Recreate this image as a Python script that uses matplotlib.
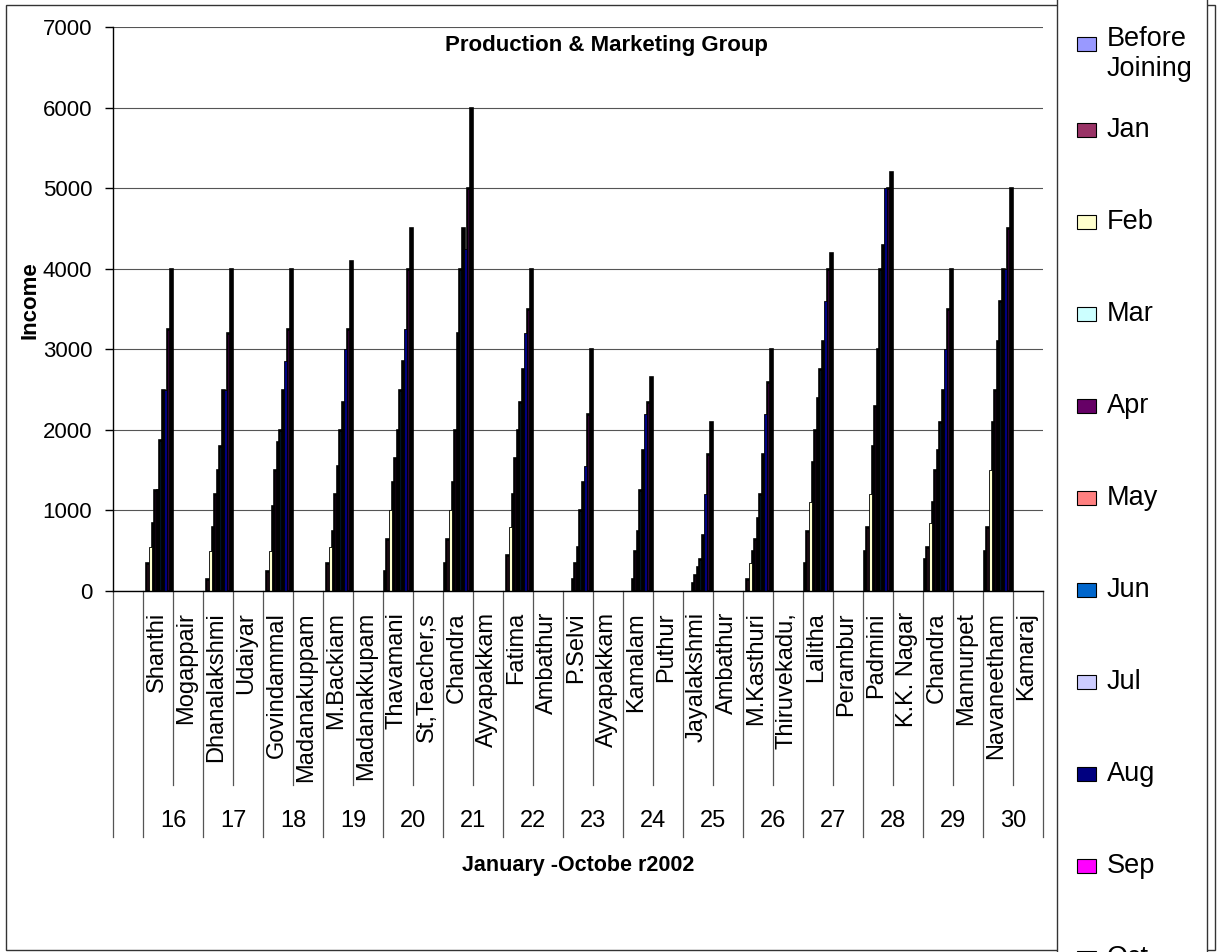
import numpy as np
import matplotlib
matplotlib.use("Agg")
import matplotlib.pyplot as plt
from matplotlib.patches import Rectangle
from matplotlib.transforms import blended_transform_factory

# Member groups 16-30: member name and village on the category axis
group_ids = [16, 17, 18, 19, 20, 21, 22, 23, 24, 25, 26, 27, 28, 29, 30]
members = ["Shanthi", "Dhanalakshmi", "Govindammal", "M.Backiam", "Thavamani",
           "Chandra", "Fatima", "P.Selvi", "Kamalam", "Jayalakshmi",
           "M.Kasthuri", "Lalitha", "Padmini", "Chandra", "Navaneetham"]
places = ["Mogappair", "Udaiyar", "Madanakuppam", "Madanakkupam", "St,Teacher,s",
          "Ayyapakkam", "Ambathur", "Ayyapakkam", "Puthur", "Ambathur",
          "Thiruvekadu,", "Perambur", "K.K. Nagar", "Mannurpet", "Kamaraj"]

# Monthly income of each member (one list per series)
before_joining = [0, 0, 0, 0, 250, 350, 0, 0, 0, 0, 0, 350, 500, 400, 500]
jan = [350, 150, 250, 350, 650, 650, 450, 0, 0, 0, 150, 750, 800, 550, 800]
feb = [550, 500, 500, 550, 1000, 1000, 800, 0, 0, 0, 350, 1100, 1200, 850, 1500]
mar = [850, 800, 1050, 750, 1350, 1350, 1200, 150, 150, 100, 500, 1600, 1800, 1100, 2100]
apr = [1250, 1200, 1500, 1200, 1650, 2000, 1650, 350, 500, 200, 650, 2000, 2300, 1500, 2500]
may = [1250, 1500, 1850, 1550, 2000, 3200, 2000, 550, 750, 300, 900, 2400, 3000, 1750, 3100]
jun = [1875, 1800, 2000, 2000, 2500, 4000, 2350, 1000, 1250, 400, 1200, 2750, 4000, 2100, 3600]
jul = [2500, 2500, 2500, 2350, 2850, 4500, 2750, 1350, 1750, 700, 1700, 3100, 4300, 2500, 4000]
aug = [2500, 2500, 2850, 3000, 3250, 4250, 3200, 1550, 2200, 1200, 2200, 3600, 5000, 3000, 4000]
sep = [3250, 3200, 3250, 3250, 4000, 5000, 3500, 2200, 2350, 1700, 2600, 4000, 5000, 3500, 4500]
oct_ = [4000, 4000, 4000, 4100, 4500, 6000, 4000, 3000, 2650, 2100, 3000, 4200, 5200, 4000, 5000]

series_names = ["Before\nJoining", "Jan", "Feb", "Mar", "Apr", "May", "Jun",
                "Jul", "Aug", "Sep", "Oct"]
series_values = [before_joining, jan, feb, mar, apr, may, jun, jul, aug, sep, oct_]
series_colors = ["#9999FF", "#993366", "#FFFFCC", "#CCFFFF", "#660066", "#FF8080",
                 "#0066CC", "#CCCCFF", "#000080", "#FF00FF", "#FFFF00"]

plt.rcParams["font.family"] = ["Liberation Sans", "DejaVu Sans"]

W, H = 1225, 952


def fx(px):
    return px / W


def fy(py):
    return 1 - py / H


fig = plt.figure(figsize=(W / 100, H / 100), dpi=100)
fig.patch.set_facecolor("white")

# Outer chart frame
fig.add_artist(Rectangle((fx(6), fy(950)), fx(1215) - fx(6), fy(5) - fy(950),
                         transform=fig.transFigure, fill=False,
                         edgecolor="#333333", linewidth=1.0, zorder=0))

ax = fig.add_axes([fx(113), fy(591), (1043 - 113) / W, (591 - 27) / H])

n_series = len(series_names)
bar_w = 0.0857
cat_centers = np.array([1 + 2 * i + 0.5 for i in range(len(members))])

# Narrow bars: heavy outline except Feb and Aug, which sit on top
for k, (vals, color) in enumerate(zip(series_values, series_colors)):
    v = np.array(vals, dtype=float)
    v[v <= 0] = np.nan
    x = cat_centers + (k - (n_series - 1) / 2) * bar_w
    light = k in (2, 8)
    ax.bar(x, v, width=bar_w, color=color, edgecolor="black",
           linewidth=0.6 if light else 1.9, zorder=4 if light else 3)

ax.set_xlim(0, 31)
ax.set_ylim(0, 7000)
ax.set_yticks(np.arange(0, 7001, 1000))
ax.tick_params(axis="y", labelsize=16, length=6, width=1, pad=9, direction="out")
ax.set_xticks([])
ax.yaxis.grid(True, color="#555555", linewidth=0.8)
ax.set_axisbelow(True)
for s in ("top", "right"):
    ax.spines[s].set_visible(False)
ax.spines["left"].set_linewidth(1.0)
ax.spines["bottom"].set_linewidth(1.0)
ax.spines["bottom"].set_zorder(5)

# Two-level category axis
trans = blended_transform_factory(ax.transData, ax.transAxes)
plot_h = 591 - 27


def ay(py):
    return (591 - py) / plot_h


for b in range(32):
    y_end = ay(837) if (b == 0 or b % 2 == 1) else ay(785)
    ax.plot([b, b], [0, y_end], transform=trans, color="#555555",
            linewidth=0.9, clip_on=False)

for i, (name, place, gid) in enumerate(zip(members, places, group_ids)):
    ax.text(1 + 2 * i + 0.45, ay(612), name, transform=trans, rotation=90,
            ha="center", va="top", fontsize=17)
    ax.text(2 + 2 * i + 0.45, ay(612), place, transform=trans, rotation=90,
            ha="center", va="top", fontsize=17)
    ax.text(2 + 2 * i, ay(821), str(gid), transform=trans,
            ha="center", va="center", fontsize=17)

fig.text(fx(606), fy(46), "Production & Marketing Group", ha="center",
         va="center", fontsize=16, fontweight="bold")
fig.text(fx(578), fy(866), "January -Octobe r2002", ha="center", va="center",
         fontsize=15.5, fontweight="bold")
fig.text(fx(30), fy(300), "Income", ha="center", va="center", rotation=90,
         fontsize=16, fontweight="bold")

# Legend panel on the right
fig.add_artist(Rectangle((fx(1057), fy(1000)), fx(1207) - fx(1057),
                         fy(-10) - fy(1000), transform=fig.transFigure,
                         facecolor="white", edgecolor="#333333",
                         linewidth=1.0, zorder=1))
entry_y = [44] + [130 + 92 * (k - 1) for k in range(1, n_series)]
for name, color, yc in zip(series_names, series_colors, entry_y):
    fig.add_artist(Rectangle((fx(1077), fy(yc + 7)), fx(1096) - fx(1077),
                             fy(yc - 7) - fy(yc + 7), transform=fig.transFigure,
                             facecolor=color, edgecolor="black",
                             linewidth=0.8, zorder=2))
    ty = yc + 10 if "\n" in name else yc
    fig.text(fx(1107), fy(ty), name, ha="left", va="center", fontsize=19.5,
             linespacing=1.2, zorder=3)

fig.savefig("out.png", dpi=100)
